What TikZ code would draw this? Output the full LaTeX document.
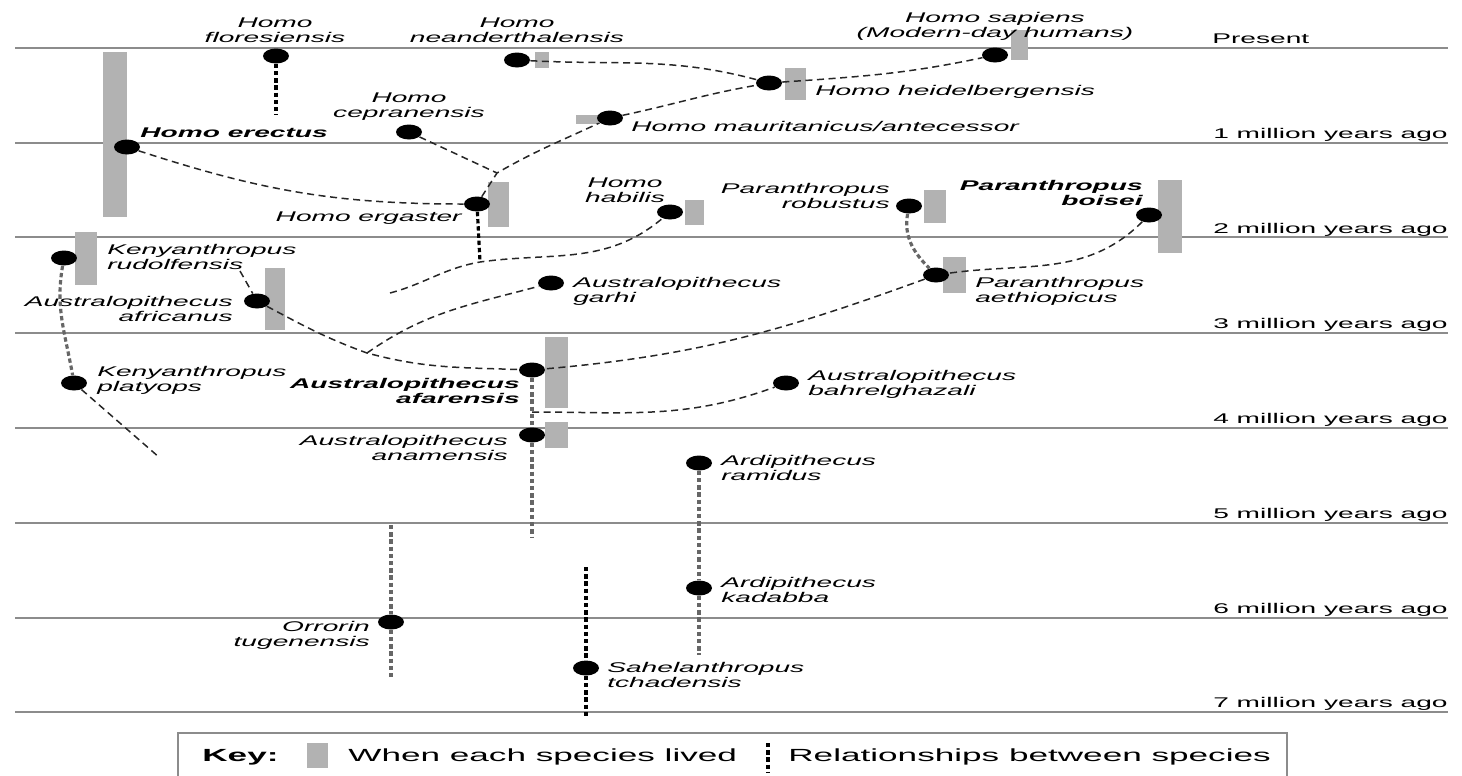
\documentclass[tikz,border=0pt]{standalone}
\usepackage{fontspec}
\newfontfamily\spfont[FakeStretch=2]{Liberation Sans}
\usetikzlibrary{shapes.geometric}
\tikzset{
  era/.style={draw=black!45, line width=1.1pt},
  lived/.style={fill=black!30},
  fossil/.style={ellipse, fill=black, minimum width=0.52cm, minimum height=0.3cm, inner sep=0pt},
  sp/.style={font=\spfont\itshape\fontsize{8}{8.6}\selectfont, inner sep=0pt},
  spb/.style={sp, font=\spfont\bfseries\itshape\fontsize{8}{8.6}\selectfont},
  mya/.style={font=\spfont\fontsize{8}{8.6}\selectfont, inner sep=0pt, anchor=base east},
  keytext/.style={font=\spfont\fontsize{10}{11}\selectfont, inner sep=0pt, anchor=west},
  rel/.style={black!85, line width=0.85pt, dash pattern=on 4pt off 2.6pt},
  anc/.style={black!60, line width=1.8pt, dash pattern=on 2.5pt off 1.6pt},
  ancdark/.style={black, line width=1.8pt, dash pattern=on 2.5pt off 1.6pt},
}
\begin{document}
\begin{tikzpicture}[x=0.02cm, y=-0.02cm]
    \useasboundingbox (0,0) rectangle (1462,775);
    \clip (0,0) rectangle (1462,775);
    % time lines
    \draw[era] (15,48) -- (1448,48);
    \draw[era] (15,143) -- (1448,143);
    \draw[era] (15,237) -- (1448,237);
    \draw[era] (15,333) -- (1448,333);
    \draw[era] (15,428) -- (1448,428);
    \draw[era] (15,523) -- (1448,523);
    \draw[era] (15,618) -- (1448,618);
    \draw[era] (15,712) -- (1448,712);
    \node[mya, anchor=base west] (t0) at (1212,43) {Present};
    \node[mya] (t1) at (1448,138) {1 million years ago};
    \node[mya] (t2) at (1448,233) {2 million years ago};
    \node[mya] (t3) at (1448,328) {3 million years ago};
    \node[mya] (t4) at (1448,423) {4 million years ago};
    \node[mya] (t5) at (1448,518) {5 million years ago};
    \node[mya] (t6) at (1448,613) {6 million years ago};
    \node[mya] (t7) at (1448,707) {7 million years ago};
    % when each species lived
    \fill[lived] (535,52) rectangle (549,68);
    \fill[lived] (1011,30) rectangle (1028,60);
    \fill[lived] (785,68) rectangle (806,100);
    \fill[lived] (576,115) rectangle (598,124);
    \fill[lived] (103,52) rectangle (127,217);
    \fill[lived] (488,182) rectangle (509,227);
    \fill[lived] (685,200) rectangle (704,225);
    \fill[lived] (924,190) rectangle (946,223);
    \fill[lived] (1158,180) rectangle (1182,253);
    \fill[lived] (943,257) rectangle (966,293);
    \fill[lived] (75,232) rectangle (97,285);
    \fill[lived] (265,268) rectangle (285,330);
    \fill[lived] (545,337) rectangle (568,408);
    \fill[lived] (545,422) rectangle (568,448);
    % species
    \node[fossil] (flo) at (276,56) {};
    \node[fossil] (nea) at (517,60) {};
    \node[fossil] (sap) at (995,55) {};
    \node[fossil] (hei) at (769,83) {};
    \node[fossil] (mau) at (610,118) {};
    \node[fossil] (ere) at (127,147) {};
    \node[fossil] (cep) at (409,132) {};
    \node[fossil] (erg) at (477,204) {};
    \node[fossil] (hab) at (670,212) {};
    \node[fossil] (rob) at (909,206) {};
    \node[fossil] (boi) at (1149,215) {};
    \node[fossil] (aet) at (936,275) {};
    \node[fossil] (rud) at (64,258) {};
    \node[fossil] (afr) at (257,301) {};
    \node[fossil] (gar) at (551,283) {};
    \node[fossil] (afa) at (532,370) {};
    \node[fossil] (bah) at (786,383) {};
    \node[fossil] (ana) at (532,435) {};
    \node[fossil] (pla) at (74,383) {};
    \node[fossil] (ram) at (699,463) {};
    \node[fossil] (kad) at (699,588) {};
    \node[fossil] (orr) at (391,622) {};
    \node[fossil] (sah) at (586,668) {};
    \node[sp, align=center] (lflo) at (275,30) {Homo\\floresiensis};
    \node[sp, align=center] (lnea) at (517,30) {Homo\\neanderthalensis};
    \node[sp, align=center] (lsap) at (995,26) {Homo sapiens\\(Modern-day humans)};
    \node[sp, anchor=west] (lhei) at (815,92) {Homo heidelbergensis};
    \node[sp, anchor=west] (lmau) at (631,126) {Homo mauritanicus/antecessor};
    \node[spb, anchor=west] (lere) at (140,133) {Homo erectus};
    \node[sp, align=center] (lcep) at (409,107) {Homo\\cepranensis};
    \node[sp, anchor=east] (lerg) at (462,218) {Homo ergaster};
    \node[sp, align=center] (lhab) at (625,190) {Homo\\habilis};
    \node[sp, align=right, anchor=east] (lrob) at (890,196) {Paranthropus\\robustus};
    \node[spb, align=right, anchor=east] (lboi) at (1143,193) {Paranthropus\\boisei};
    \node[sp, align=left, anchor=west] (laet) at (975,291) {Paranthropus\\aethiopicus};
    \node[sp, align=left, anchor=west] (lrud) at (107,257) {Kenyanthropus\\rudolfensis};
    \node[sp, align=right, anchor=east] (lafr) at (233,309) {Australopithecus\\africanus};
    \node[sp, align=left, anchor=west] (lgar) at (573,291) {Australopithecus\\garhi};
    \node[spb, align=right, anchor=east] (lafa) at (520,391) {Australopithecus\\afarensis};
    \node[sp, align=left, anchor=west] (lbah) at (808,384) {Australopithecus\\bahrelghazali};
    \node[sp, align=right, anchor=east] (lana) at (508,448) {Australopithecus\\anamensis};
    \node[sp, align=left, anchor=west] (lpla) at (97,380) {Kenyanthropus\\platyops};
    \node[sp, align=left, anchor=west] (lram) at (721,468) {Ardipithecus\\ramidus};
    \node[sp, align=left, anchor=west] (lkad) at (721,590) {Ardipithecus\\kadabba};
    \node[sp, align=right, anchor=east] (lorr) at (370,635) {Orrorin\\tugenensis};
    \node[sp, align=left, anchor=west] (lsah) at (607,675) {Sahelanthropus\\tchadensis};
    % relationships
    \coordinate (j1) at (497,173);
    \coordinate (j2) at (480,262);
    \coordinate (j3) at (367,353);
    \coordinate (j4) at (532,412);
    \coordinate (f1) at (390,293);
    \coordinate (f2) at (160,458);
    \coordinate (f3) at (240,271);
    \coordinate (e1) at (532,537);
    \coordinate (e2) at (699,655);
    \coordinate (s3) at (391,525);
    \coordinate (e3) at (391,677);
    \coordinate (s4) at (586,567);
    \coordinate (e4) at (586,717);
    \coordinate (e5) at (276,115);
    \draw[rel] (nea) to[out=-3, in=165] (hei);
    \draw[rel] (hei) to[out=4, in=192] (sap);
    \draw[rel] (mau) to[out=12, in=190] (hei);
    \draw[rel] (erg) -- (j1) to[out=30, in=205] (mau);
    \draw[rel] (cep) -- (j1);
    \draw[rel] (ere) to[out=-18, in=180] (erg);
    \draw[ancdark] (erg) -- (j2);
    \draw[rel] (f1) to[out=15, in=190] (j2) to[out=8, in=220] (hab);
    \draw[anc] (rob) to[out=-100, in=135] (aet);
    \draw[rel] (boi) to[out=225, in=8] (aet);
    \draw[rel] (aet) to[out=200, in=5] (afa);
    \draw[anc] (rud) to[out=-100, in=100] (pla);
    \draw[rel] (pla) -- (f2);
    \draw[rel] (f3) -- (afr);
    \draw[rel] (afr) to[out=-28, in=160] (j3) to[out=-15, in=178] (afa);
    \draw[rel] (j3) to[out=35, in=195] (gar);
    \draw[anc] (afa) -- (ana) -- (e1);
    \draw[rel] (j4) to[out=0, in=200] (bah);
    \draw[anc] (ram) -- (kad) -- (e2);
    \draw[anc] (s3) -- (orr) -- (e3);
    \draw[ancdark] (s4) -- (sah) -- (e4);
    \draw[ancdark] (flo) -- (e5);
    % key
    \draw[draw=black!45, line width=1.1pt] (178,733) rectangle (1287,790);
    \node[keytext, font=\spfont\bfseries\fontsize{10}{11}\selectfont] (key) at (202,757) {Key:};
    \fill[lived] (307,743) rectangle (328,768);
    \node[keytext] (klived) at (348,757) {When each species lived};
    \draw[ancdark] (768,743) -- (768,772);
    \node[keytext] (krel) at (788,757) {Relationships between species};
\end{tikzpicture}
\end{document}
